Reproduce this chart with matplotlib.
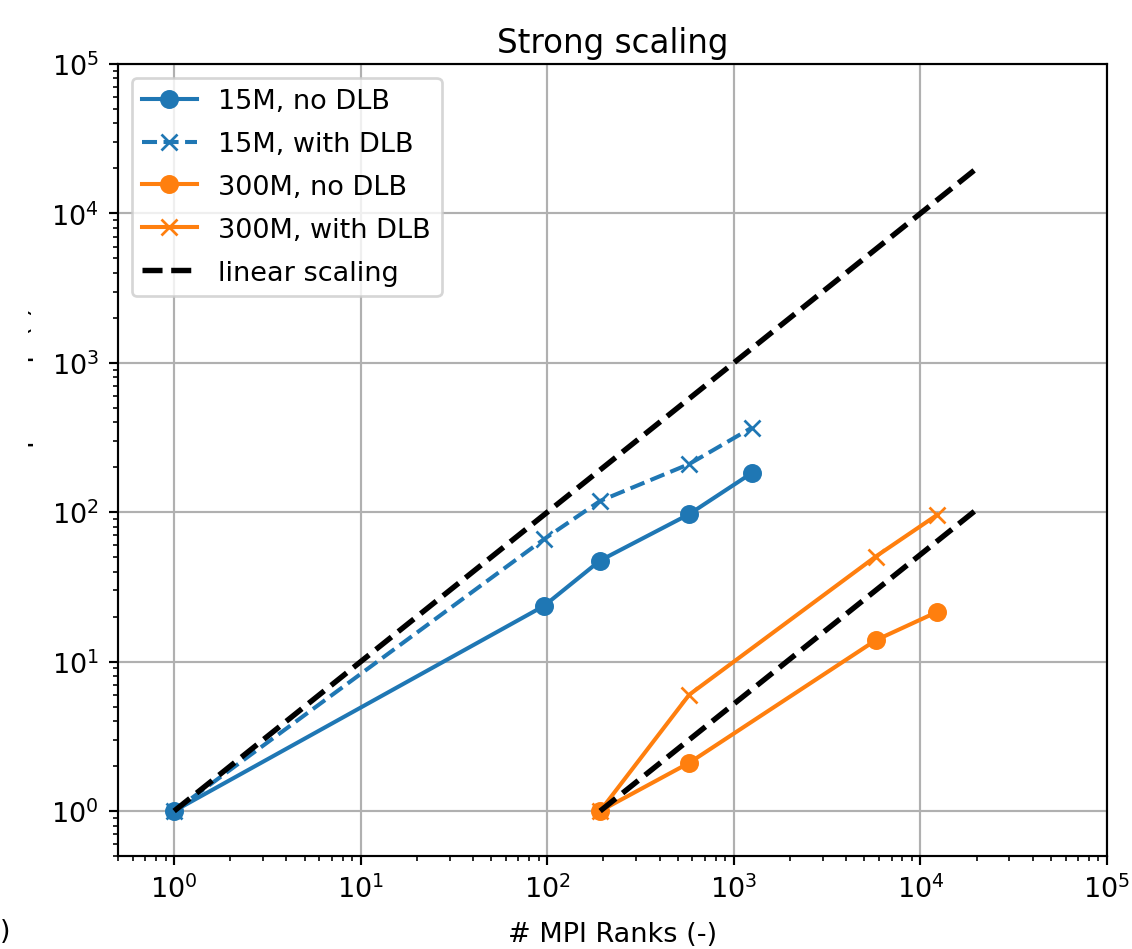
import matplotlib
matplotlib.use("Agg")
import matplotlib.pyplot as plt
from matplotlib.transforms import Bbox

# Rank counts and measured speedups (normalised to the smallest run)
ranks_15m = [1, 96, 192, 576, 1248]
speedup_15m_no_dlb = [1.0, 23.6, 47.5, 97.0, 183.0]
speedup_15m_dlb = [1.0, 66.0, 119.0, 210.0, 368.0]

ranks_300m = [192, 576, 5760, 12288]
speedup_300m_no_dlb = [1.0, 2.1, 13.9, 21.5]
speedup_300m_dlb = [1.0, 6.0, 50.5, 96.0]

# Ideal-scaling reference ranges
ideal_15m_ranks = [1, 20000]
ideal_300m_ranks = [192, 20000]

W, H, DPI = 1132, 950, 195
fig = plt.figure(figsize=(W / DPI, H / DPI), dpi=DPI)
ax = fig.add_axes([118 / W, 1 - 857 / H, (1107 - 118) / W, (857 - 65) / H])

blue, orange = "#1f77b4", "#ff7f0e"
ax.plot(ranks_15m, speedup_15m_no_dlb, "-o", color=blue, label="15M, no DLB")
ax.plot(ranks_15m, speedup_15m_dlb, "--x", color=blue, label="15M, with DLB")
ax.plot(ranks_300m, speedup_300m_no_dlb, "-o", color=orange, label="300M, no DLB")
ax.plot(ranks_300m, speedup_300m_dlb, "-x", color=orange, label="300M, with DLB")

ax.plot(ideal_15m_ranks, [r / ideal_15m_ranks[0] for r in ideal_15m_ranks],
        "--", color="black", lw=2, label="linear scaling")
ax.plot(ideal_300m_ranks, [r / ideal_300m_ranks[0] for r in ideal_300m_ranks],
        "--", color="black", lw=2)

ax.set_xscale("log")
ax.set_yscale("log")
ax.set_xlim(0.5, 1e5)
ax.set_ylim(0.5, 1e5)
ax.grid(True, which="major")
ax.set_title("Strong scaling", pad=4.5)
ax.set_xlabel("# MPI Ranks (-)", labelpad=6.5)
ylab = ax.set_ylabel("Speedup (-)")
ax.yaxis.set_label_coords((34 - 118) / 989, (857 - 385) / 792)
ax.legend(loc="upper left", labelspacing=0.62)

# Only the descender tips of the y label stay inside the visible strip
ylab.set_clip_on(True)
ylab.set_clip_box(Bbox.from_extents(28, 0, W, H))

# Tail of the neighbouring panel's axis label
fig.text(0, 1 - 932 / H, ")", ha="left", va="center", fontsize=10)

fig.savefig("out.png", dpi=DPI)
